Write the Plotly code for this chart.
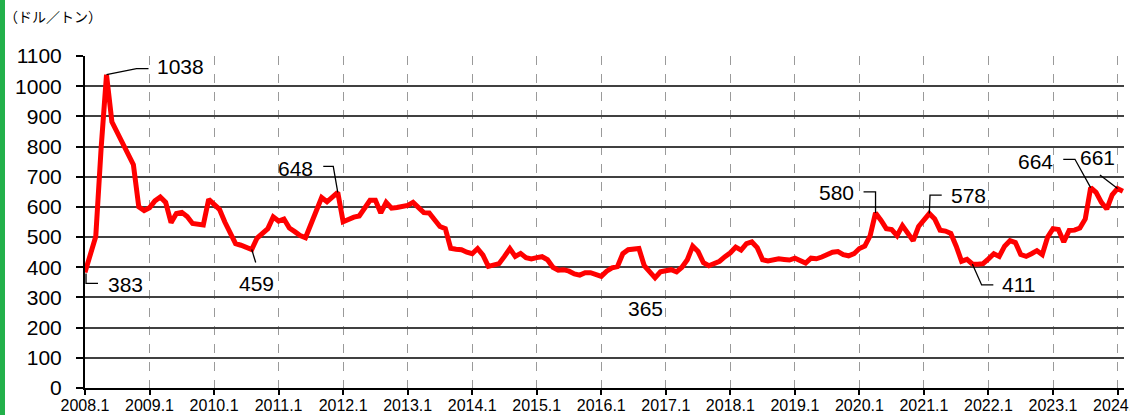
import plotly.graph_objects as go

# ---- data (monthly, 2008.1 .. 2024.2), USD / ton ----
price = [
    383, 445, 502, 795, 1038, 882, 845, 815, 780, 740, 600, 588,      # 2008
    597, 620, 633, 615, 548, 578, 582, 568, 545, 542, 540, 625,       # 2009
    611, 592, 550, 510, 478, 473, 466, 459, 497, 515, 528, 567,       # 2010
    553, 560, 530, 518, 505, 498, 545, 585, 631, 617, 630, 648,       # 2011
    551, 560, 566, 570, 600, 622, 622, 580, 615, 596, 598, 600,       # 2012
    605, 615, 598, 581, 580, 555, 535, 528, 463, 460, 458, 450,       # 2013
    445, 462, 440, 403, 407, 412, 436, 462, 436, 446, 432, 428,       # 2014
    432, 435, 425, 400, 390, 392, 387, 378, 374, 382, 382, 377,       # 2015
    370, 387, 398, 402, 445, 458, 460, 462, 405, 382, 365, 385,       # 2016
    390, 392, 385, 400, 425, 470, 452, 415, 405, 412, 420, 435,       # 2017
    448, 467, 457, 478, 484, 465, 425, 421, 425, 428, 426, 424,       # 2018
    430, 424, 414, 430, 428, 434, 442, 450, 452, 442, 438, 445,       # 2019
    462, 470, 505, 580, 556, 528, 525, 505, 538, 515, 488, 535,       # 2020
    560, 578, 560, 523, 520, 512, 470, 420, 426, 411, 410, 412,       # 2021
    428, 445, 436, 470, 488, 482, 442, 436, 445, 455, 442, 500,       # 2022
    528, 525, 484, 522, 523, 530, 560, 664, 648, 615, 593, 640,       # 2023
    661, 652,                                                         # 2024
]
month_index = list(range(len(price)))

year_tick_pos = [12 * k for k in range(17)]
year_tick_text = [f"{2008 + k}.1" for k in range(17)]

# labelled points: (month index, text, text dx, text dy, leader path in px offsets)
labels = [
    (0, "383", 40, -12, "M1,-1 L1,-11 L13,-11"),
    (4, "1038", 74, 8, "M0,0 L30,6 L42,6"),
    (31, "459", 5, -34, "M0,0 L4,-13"),
    (47, "648", -42, 24, "M0,0 L-4.5,26 L-14.5,26"),
    (106, "365", -10, -31, None),
    (147, "580", -39, 20, "M0,0 L0,21 L-12,21"),
    (157, "578", 39, 18, "M0,0 L0.7,18.5 L12.4,18.5"),
    (165, "411", 46, -21, "M0,0 L9.3,-21 L21,-21"),
    (187, "664", -55, 26, "M0,0 L-15.7,28.3 L-27.4,28.3"),
    (192, "661", -20, 31, "M0,0 L-17.6,13.5"),
]

W, H = 1130, 415
ML, MR, MT, MB = 85, 6, 56, 27
PW, PH = W - ML - MR, H - MT - MB

fig = go.Figure()
fig.add_trace(go.Scatter(
    x=month_index, y=price, mode="lines",
    line=dict(color="#ff0000", width=5),
    hoverinfo="skip", showlegend=False,
))

font_num = "Liberation Sans, Arial, sans-serif"
shapes = []
annotations = []
for idx, txt, dx, dy, path in labels:
    val = price[idx]
    annotations.append(dict(
        x=idx, y=val, xref="x", yref="y", text=txt, showarrow=False,
        xshift=dx, yshift=dy, font=dict(family=font_num, size=21, color="black"),
    ))
    if path:
        shapes.append(dict(
            type="path", xref="x", yref="y", xsizemode="pixel", ysizemode="pixel",
            xanchor=idx, yanchor=val, path=path,
            line=dict(color="black", width=1.3), layer="above",
        ))

# unit label
annotations.append(dict(
    x=(2 - ML) / PW, y=(H - MB - 16) / PH, xref="paper", yref="paper",
    xanchor="left", yanchor="middle", showarrow=False, text="（ドル／トン）",
    font=dict(family="Noto Sans CJK JP", size=14, color="black"),
))

# green bar on left edge
shapes.append(dict(type="rect", xref="paper", yref="paper",
                   x0=(0 - ML) / PW, x1=(5 - ML) / PW,
                   y0=-MB / PH, y1=(PH + MT) / PH,
                   fillcolor="#22b04a", line=dict(width=0), layer="above"))

fig.update_layout(
    shapes=shapes,
    annotations=annotations,
    width=W, height=H,
    margin=dict(l=ML, r=MR, t=MT, b=MB, autoexpand=False),
    paper_bgcolor="white", plot_bgcolor="white",
    xaxis=dict(
        range=[0, 193.2], tickmode="array", tickvals=year_tick_pos,
        ticktext=year_tick_text, ticks="outside", ticklen=5, tickwidth=2,
        tickcolor="black", showline=True, linecolor="black", linewidth=2,
        showgrid=True, gridcolor="#9a9a9a", griddash="dash", gridwidth=1,
        zeroline=False, ticklabeloverflow="allow", automargin=False,
        ticklabelstandoff=-3,
        tickfont=dict(family=font_num, size=16, color="black"),
    ),
    yaxis=dict(
        range=[0, 1100], dtick=100, tick0=0, ticks="outside", ticklen=7,
        tickwidth=1.5, tickcolor="black", showline=True, linecolor="black",
        linewidth=2, showgrid=True, gridcolor="#404040", gridwidth=1.5,
        zeroline=False, ticklabelstandoff=10, automargin=False,
        tickfont=dict(family=font_num, size=21, color="black"),
    ),
)

fig.write_html(
    "out.html",
    config={"displayModeBar": False, "responsive": False},
    post_script="document.body.style.margin='0';document.body.style.overflow='hidden';",
)
